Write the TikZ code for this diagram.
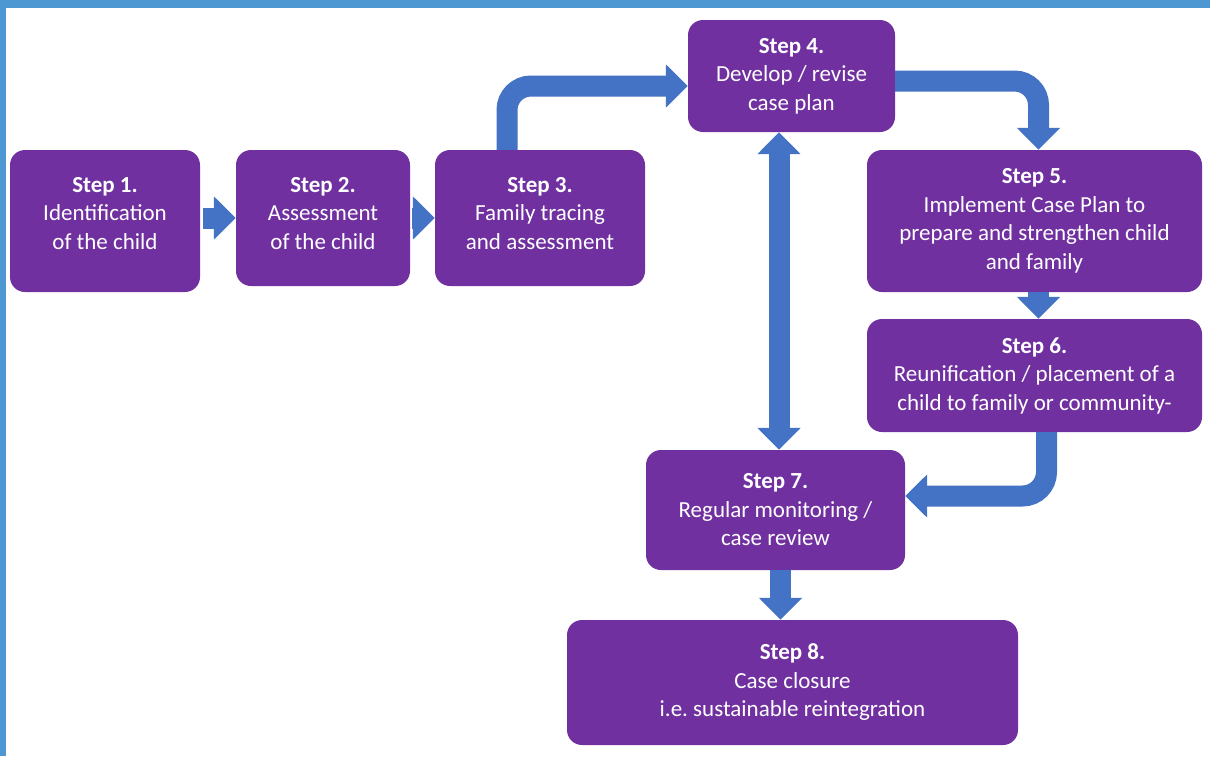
\documentclass[tikz,border=0pt]{standalone}
\usepackage{fontspec}
\setmainfont{Carlito}
\usetikzlibrary{arrows.meta}
\definecolor{pp}{RGB}{112, 48, 160}
\definecolor{bb}{RGB}{68, 114, 196}
\definecolor{fr}{RGB}{77, 151, 211}

\begin{document}
\begin{tikzpicture}[x=1pt, y=1pt,
box/.style={rectangle, rounded corners=15pt, fill=pp, text=white, align=center, inner sep=0pt, font=\fontsize{23}{28.5}\selectfont},
flow/.style={line width=21pt, color=bb, rounded corners=24pt, -{Triangle[width=42pt, length=22pt]}}]
\useasboundingbox (0, 0) rectangle (1210, -756);
\fill [fr] (0, 0) rectangle (1210, -8);
\fill [fr] (0, 0) rectangle (6, -756);
\node (1) [box, minimum width=190pt, minimum height=142pt, text depth=16pt] at (105.0, -221.0) {\textbf{Step 1.}\\Identification\\of the child};
\node (2) [box, minimum width=174pt, minimum height=136pt, text depth=10pt] at (323.0, -218.0) {\textbf{Step 2.}\\Assessment\\of the child};
\node (3) [box, minimum width=210pt, minimum height=136pt, text depth=10pt] at (540.0, -218.0) {\textbf{Step 3.}\\Family tracing\\and assessment};
\node (4) [box, minimum width=207pt, minimum height=112pt] at (791.5, -76.0) {\textbf{Step 4.}\\Develop / revise\\case plan};
\node (5) [box, minimum width=335pt, minimum height=142pt] at (1034.5, -221.0) {\textbf{Step 5.}\\Implement Case Plan to\\prepare and strengthen child\\and family};
\node (6) [box, minimum width=335pt, minimum height=113pt] at (1034.5, -375.5) {\textbf{Step 6.}\\Reunification / placement of a\\child to family or community-};
\node (7) [box, minimum width=259pt, minimum height=120pt] at (775.5, -510.0) {\textbf{Step 7.}\\Regular monitoring /\\case review};
\node (8) [box, minimum width=451pt, minimum height=125pt] at (792.5, -682.5) {\textbf{Step 8.}\\Case closure\\i.e.\ sustainable reintegration};
\draw [flow, shorten <=3pt] (2.west -| 1.east) to (2.west);
\draw [flow, shorten <=2pt] (3.west -| 2.east) to (3.west);
\draw [flow] ([xshift=-33pt]3.north) |- ([yshift=-10pt]4.west);
\draw [flow] ([yshift=-5pt]4.east) -| ([xshift=4pt]5.north);
\draw [flow] ([xshift=4pt]5.south) to ([xshift=4pt]6.north);
\draw [flow] ([xshift=12pt]6.south) |- ([yshift=14pt]7.east);
\draw [flow, {Triangle[width=42pt, length=22pt]}-{Triangle[width=42pt, length=22pt]}] ([xshift=-12.5pt]4.south) to ([xshift=-12.5pt]4.south |- 7.north);
\draw [flow] ([xshift=5pt]7.south) to ([xshift=5pt]7.south |- 8.north);
\end{tikzpicture}
\end{document}
